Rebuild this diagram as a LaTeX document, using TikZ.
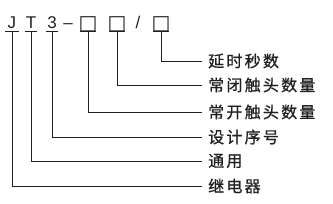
\documentclass[tikz,border=0pt]{standalone}
\usepackage{fontspec}
\setmainfont{Liberation Sans}
\newfontfamily\cjk[LetterSpace=14,FakeBold=0.8]{Noto Sans CJK SC}
\newfontfamily\cjkbox{DejaVu Sans}
\definecolor{ink}{RGB}{35,31,32}
\begin{document}
\begin{tikzpicture}[x=1pt,y=-1pt,
  code/.style={anchor=base,inner sep=0pt,text=ink,font=\fontsize{17}{17}\selectfont},
  sq/.style={anchor=base,inner sep=0pt,text=ink,font=\cjkbox\fontsize{20}{20}\selectfont},
  lab/.style={anchor=west,inner xsep=6pt,inner ysep=0pt,text=ink,font=\cjk\fontsize{16}{16}\selectfont},
  ln/.style={line width=0.9pt,draw=ink}]
\useasboundingbox (0,0) rectangle (333,204);
% code characters
\node[code] (J) at (12,28) {J};
\node[code] (T) at (31,28) {T};
\node[code] (N) at (52,28) {3};
\node[code] (D) at (68,28) {–};
\node[sq] (B1) at (88,29) {□};
\node[sq] (B2) at (117,29) {□};
\node[code] (S) at (138,28) {/};
\node[sq] (B3) at (161,29) {□};
% labels
\node[lab] (L1) at (202,61) {延时秒数};
\node[lab] (L2) at (202,85) {常闭触头数量};
\node[lab] (L3) at (202,112) {常开触头数量};
\node[lab] (L4) at (202,137) {设计序号};
\node[lab] (L5) at (202,161) {通用};
\node[lab] (L6) at (202,186) {继电器};
% underlines
\coordinate (uJ) at (12,31);
\coordinate (uT) at (31,31);
\coordinate (uN) at (52,31);
\coordinate (uB1) at (88,31);
\coordinate (uB2) at (117,31);
\coordinate (uB3) at (161,31);
\draw[ln] ([xshift=-7pt]uJ) -- ([xshift=7pt]uJ);
\draw[ln] ([xshift=-6pt]uT) -- ([xshift=6pt]uT);
\draw[ln] ([xshift=-6pt]uN) -- ([xshift=6pt]uN);
\draw[ln] ([xshift=-8pt]uB1) -- ([xshift=8pt]uB1);
\draw[ln] ([xshift=-8pt]uB2) -- ([xshift=8pt]uB2);
\draw[ln] ([xshift=-8pt]uB3) -- ([xshift=8pt]uB3);
% connectors
\draw[ln] (uB3) |- (L1.west);
\draw[ln] (uB2) |- (L2.west);
\draw[ln] (uB1) |- (L3.west);
\draw[ln] (uN) |- (L4.west);
\draw[ln] (uT) |- (L5.west);
\draw[ln] (uJ) |- (L6.west);
\end{tikzpicture}
\end{document}
